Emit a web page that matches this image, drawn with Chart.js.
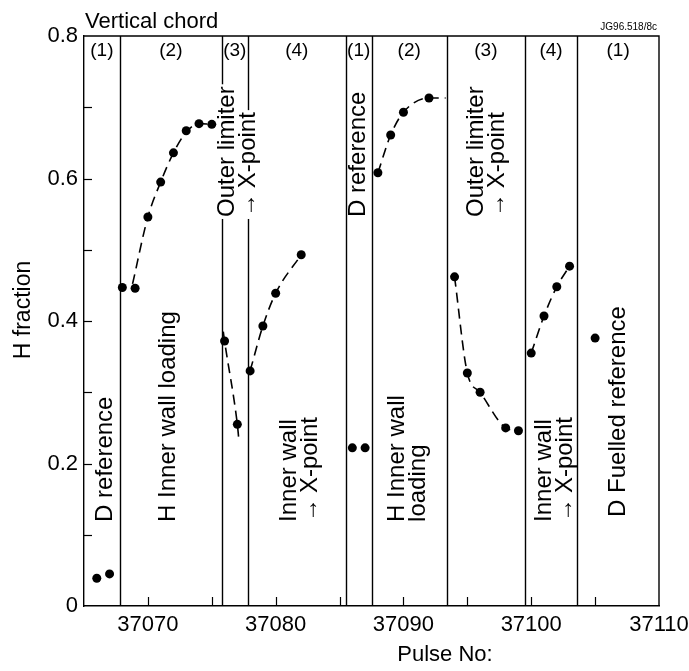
<!DOCTYPE html>
<html><head><meta charset="utf-8">
<script src="https://cdn.jsdelivr.net/npm/chart.js@4/dist/chart.umd.min.js"></script>
<style>html,body{margin:0;padding:0;background:#fff}canvas{display:block}</style>
</head><body>
<canvas id="c" width="689" height="671"></canvas>
<script>
// ---- data (pulse number, H fraction) ----
const ref1Pulse   = [37066, 37067];
const ref1H       = [0.039, 0.045];
const load1Pulse  = [37068, 37069, 37070, 37071, 37072, 37073, 37074, 37075];
const load1H      = [0.447, 0.446, 0.546, 0.595, 0.636, 0.667, 0.677, 0.676];
const outer1Pulse = [37076, 37077];
const outer1H     = [0.372, 0.255];
const inner1Pulse = [37078, 37079, 37080, 37082];
const inner1H     = [0.330, 0.393, 0.439, 0.493];
const ref2Pulse   = [37086, 37087];
const ref2H       = [0.222, 0.222];
const load2Pulse  = [37088, 37089, 37090, 37092];
const load2H      = [0.608, 0.661, 0.693, 0.713];
const outer2Pulse = [37094, 37095, 37096, 37098, 37099];
const outer2H     = [0.462, 0.327, 0.300, 0.250, 0.246];
const inner2Pulse = [37100, 37101, 37102, 37103];
const inner2H     = [0.355, 0.407, 0.448, 0.477];
const fuelPulse   = [37105];
const fuelH       = [0.376];

// dashed trend curves
const trendLoad1Pulse  = [37068.8, 37070, 37071, 37072, 37073, 37074, 37075];
const trendLoad1H      = [0.452, 0.546, 0.595, 0.636, 0.665, 0.677, 0.676];
const trendOuter1Pulse = [37075.9, 37076, 37077, 37077.1];
const trendOuter1H     = [0.385, 0.372, 0.255, 0.237];
const trendInner1Pulse = [37078, 37079, 37080, 37082];
const trendInner1H     = [0.330, 0.393, 0.439, 0.493];
const trendLoad2Pulse  = [37088, 37089, 37090, 37092, 37093.3];
const trendLoad2H      = [0.608, 0.661, 0.693, 0.713, 0.713];
const trendOuter2Pulse = [37094, 37095, 37096, 37098, 37099];
const trendOuter2H     = [0.462, 0.327, 0.300, 0.250, 0.246];
const trendInner2Pulse = [37100, 37101, 37102, 37103];
const trendInner2H     = [0.355, 0.407, 0.448, 0.477];

// phase boundaries (pulse numbers) and labels
const boundaries   = [37067.8, 37075.8, 37077.8, 37085.5, 37087.5, 37093.4, 37099.5, 37103.6];
const phaseNumbers = ['(1)', '(2)', '(3)', '(4)', '(1)', '(2)', '(3)', '(4)', '(1)'];
const phaseTexts   = [
  ['D reference'],
  ['H Inner wall loading'],
  ['Outer limiter', '\u2192\u2009X-point'],
  ['Inner wall', '\u2192\u2009X-point'],
  ['D reference'],
  ['H Inner wall', 'loading'],
  ['Outer limiter', '\u2192\u2009X-point'],
  ['Inner wall', '\u2192\u2009X-point'],
  ['D Fuelled reference']
];
const xTicks = [37070, 37080, 37090, 37100, 37110];
const yTicks = [0, 0.2, 0.4, 0.6, 0.8];

// ---- layout (anchors for text, in axis units) ----
const FONT = '"Liberation Sans", Arial, Helvetica, sans-serif';
const textAnchors = [ // x of first line (pulse), start (bottom) of text (H fraction), masked bg
  {x: 37066.65, y: 0.118, bg: false},
  {x: 37071.6,  y: 0.118, bg: false},
  {x: 37076.25, y: 0.546, bg: true},
  {x: 37081.1,  y: 0.118, bg: false},
  {x: 37086.45, y: 0.546, bg: false},
  {x: 37089.5,  y: 0.118, bg: false},
  {x: 37095.7,  y: 0.546, bg: false},
  {x: 37101.05, y: 0.118, bg: false},
  {x: 37106.8,  y: 0.125, bg: false}
];
const lineGap = 21;

function pts(xs, ys) { return xs.map((x, i) => ({x: x, y: ys[i]})); }

const pointStyle = {type: 'scatter', showLine: false, pointRadius: 4.5, pointHoverRadius: 4.5,
  backgroundColor: '#000', borderColor: '#000', borderWidth: 0};
const trendStyle = {type: 'line', showLine: true, pointRadius: 0, borderColor: '#000', borderWidth: 1.6,
  borderDash: [10, 6], cubicInterpolationMode: 'monotone', fill: false};

const datasets = [
  [trendLoad1Pulse, trendLoad1H], [trendOuter1Pulse, trendOuter1H], [trendInner1Pulse, trendInner1H],
  [trendLoad2Pulse, trendLoad2H], [trendOuter2Pulse, trendOuter2H], [trendInner2Pulse, trendInner2H]
].map(([a, b]) => Object.assign({data: pts(a, b)}, trendStyle)).concat([
  [ref1Pulse, ref1H], [load1Pulse, load1H], [outer1Pulse, outer1H], [inner1Pulse, inner1H],
  [ref2Pulse, ref2H], [load2Pulse, load2H], [outer2Pulse, outer2H], [inner2Pulse, inner2H],
  [fuelPulse, fuelH]
].map(([a, b]) => Object.assign({data: pts(a, b)}, pointStyle)));

const decor = {
  id: 'decor',
  beforeDatasetsDraw(chart) {
    const {ctx, chartArea: a, scales: {x, y}} = chart;
    ctx.save();
    ctx.strokeStyle = '#000';
    ctx.lineWidth = 1.4;
    ctx.beginPath();
    ctx.moveTo(a.left, a.top); ctx.lineTo(a.right, a.top); ctx.lineTo(a.right, a.bottom);
    ctx.stroke();
    boundaries.forEach(b => {
      const px = Math.round(x.getPixelForValue(b)) + 0.5;
      ctx.beginPath(); ctx.moveTo(px, a.top); ctx.lineTo(px, a.bottom); ctx.stroke();
    });
    ctx.lineWidth = 1.2;
    for (let v = 37070; v <= 37105; v += 5) {
      const px = Math.round(x.getPixelForValue(v)) + 0.5;
      ctx.beginPath(); ctx.moveTo(px, a.bottom); ctx.lineTo(px, a.bottom - 9); ctx.stroke();
    }
    for (let k = 1; k < 8; k++) {
      const py = Math.round(y.getPixelForValue(k / 10)) + 0.5;
      ctx.beginPath(); ctx.moveTo(a.left, py); ctx.lineTo(a.left + 8, py); ctx.stroke();
    }
    ctx.fillStyle = '#000';
    ctx.font = '19px ' + FONT;
    ctx.textAlign = 'center'; ctx.textBaseline = 'middle';
    const edges = [x.min].concat(boundaries, [x.max]);
    phaseNumbers.forEach((t, i) => {
      const cx = (x.getPixelForValue(edges[i]) + x.getPixelForValue(edges[i + 1])) / 2;
      ctx.fillText(t, cx, a.top + 15);
    });
    ctx.font = '24px ' + FONT;
    phaseTexts.forEach((lines, i) => {
      const an = textAnchors[i];
      const px = x.getPixelForValue(an.x), py = y.getPixelForValue(an.y);
      lines.forEach((ln, j) => {
        ctx.save();
        ctx.translate(px + j * lineGap, py);
        ctx.rotate(-Math.PI / 2);
        ctx.textAlign = 'left'; ctx.textBaseline = 'middle';
        if (an.bg) {
          const w = ctx.measureText(ln).width;
          ctx.fillStyle = '#fff';
          ctx.fillRect(-2, -11, w + 4, 22);
          ctx.fillStyle = '#000';
        }
        ctx.fillText(ln, 0, 0);
        ctx.restore();
      });
    });
    ctx.textAlign = 'left'; ctx.textBaseline = 'alphabetic';
    ctx.font = '22px ' + FONT;
    ctx.fillText('Vertical chord', a.left + 1, a.top - 8);
    ctx.font = '10px ' + FONT;
    ctx.textAlign = 'right';
    ctx.fillText('JG96.518/8c', a.right - 2, a.top - 6);
    ctx.font = '22px ' + FONT;
    ctx.textAlign = 'center'; ctx.textBaseline = 'middle';
    ctx.fillText('Pulse No:', 445, 655);
    ctx.save();
    ctx.font = '23px ' + FONT;
    ctx.translate(24, 310); ctx.rotate(-Math.PI / 2);
    ctx.fillText('H fraction', 0, 0);
    ctx.restore();
    ctx.restore();
  }
};

new Chart(document.getElementById('c'), {
  type: 'scatter',
  data: {datasets: datasets},
  plugins: [decor],
  options: {
    responsive: false, animation: false, devicePixelRatio: 1,
    layout: {padding: {top: 36, right: 30, left: 0, bottom: 0}},
    plugins: {legend: {display: false}, tooltip: {enabled: false}},
    scales: {
      x: {
        type: 'linear', min: 37065, max: 37110,
        grid: {display: false, drawTicks: false},
        border: {display: true, color: '#000', width: 1.4},
        afterBuildTicks: s => { s.ticks = xTicks.map(v => ({value: v})); },
        ticks: {color: '#000', font: {size: 22, family: FONT}, padding: 6, maxRotation: 0, autoSkip: false,
          callback: v => String(v)},
        afterFit: s => { s.height = 65; s.paddingLeft = 0; s.paddingRight = 0; }
      },
      y: {
        min: 0, max: 0.8,
        grid: {display: false, drawTicks: false},
        border: {display: true, color: '#000', width: 1.4},
        afterBuildTicks: s => { s.ticks = yTicks.map(v => ({value: v})); },
        ticks: {color: '#000', font: {size: 22, family: FONT}, padding: 6,
          callback: v => (v === 0 ? '0' : v.toFixed(1))},
        afterFit: s => { s.width = 84; s.paddingTop = 0; s.paddingBottom = 0; }
      }
    }
  }
});
</script>
</body></html>
